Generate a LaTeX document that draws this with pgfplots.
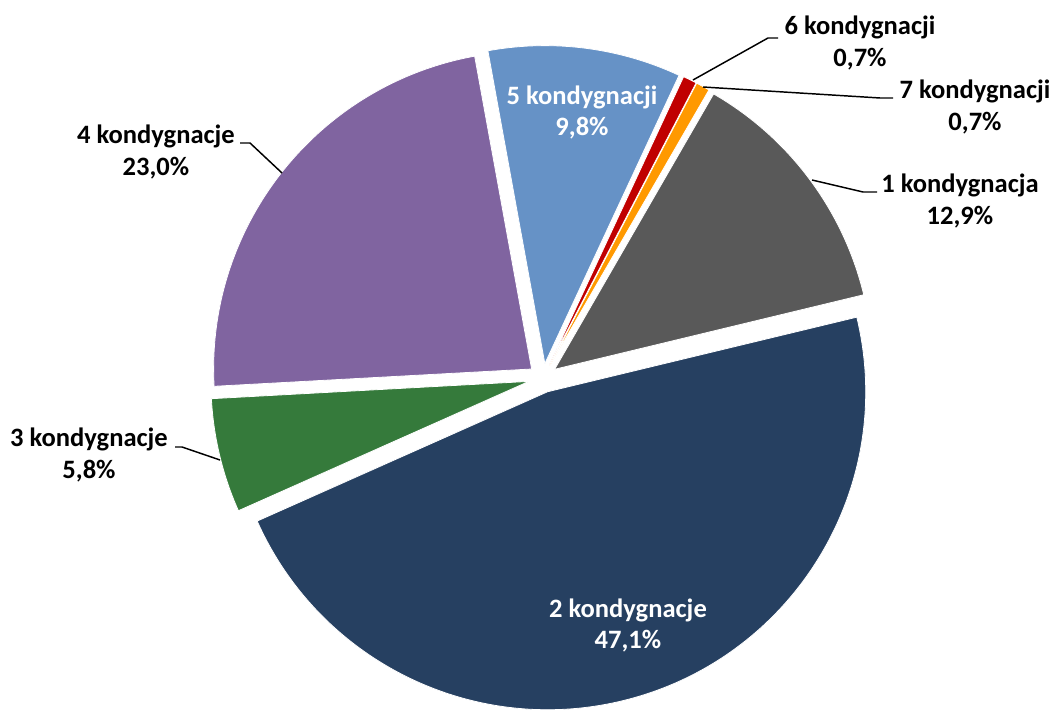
\documentclass[border=0pt]{standalone}
\usepackage{pgfplots}
\usepackage{pgfplotstable}
\pgfplotsset{compat=1.18}
\usepackage{fontspec}
\setmainfont{Carlito}
\definecolor{c1}{HTML}{595959}
\definecolor{c2}{HTML}{264061}
\definecolor{c3}{HTML}{357A3B}
\definecolor{c4}{HTML}{8064A0}
\definecolor{c5}{HTML}{6692C6}
\definecolor{c6}{HTML}{C00000}
\definecolor{c7}{HTML}{FF9900}
\pgfplotstableread{
value color
12.9 c1
47.1 c2
5.8 c3
23.0 c4
9.8 c5
0.7 c6
0.7 c7
}\piedata
\begin{document}
\begin{tikzpicture}[lbl/.style={font=\bfseries\fontsize{19.9}{23.3}\selectfont, align=center, inner sep=0pt}]
\begin{axis}[
  scale only axis, width=790.5pt, height=532.5pt,
  xmin=0, xmax=1054, ymin=0, ymax=710,
  hide axis, clip=false,
]
\path (axis cs:0,0) rectangle (axis cs:1054,710);
\pgfplotstablegetrowsof{\piedata}
\pgfmathtruncatemacro\N{\pgfplotsretval-1}
\def\cum{30}
\pgfplotsforeachungrouped \i in {0,...,\N}{%
  \pgfplotstablegetelem{\i}{value}\of\piedata \let\v\pgfplotsretval
  \pgfplotstablegetelem{\i}{color}\of\piedata \let\c\pgfplotsretval
  \pgfmathsetmacro\aS{90-\cum}%
  \pgfmathsetmacro\aE{90-\cum-3.6*\v}%
  \pgfmathsetmacro\aM{(\aS+\aE)/2}%
  \pgfmathsetmacro\ox{543+14.5*cos(\aM)}%
  \pgfmathsetmacro\oy{332+14.5*sin(\aM)}%
  \edef\temp{\noexpand\fill[\c, draw=white, line width=0.6pt] (axis cs:\ox,\oy) -- ++(\aS:238.5pt) arc[start angle=\aS, end angle=\aE, radius=238.5pt] -- cycle;}%
  \temp
  \pgfmathsetmacro\cum{\cum+3.6*\v}%
}
% leader lines
\draw[black, line width=1.1pt] (axis cs:693,630) -- (axis cs:768,672) -- (axis cs:778,672);
\draw[black, line width=1.1pt] (axis cs:703,623) -- (axis cs:880,612) -- (axis cs:893,612);
\draw[black, line width=1.1pt] (axis cs:812,530) -- (axis cs:863,518) -- (axis cs:877,518);
\draw[black, line width=1.1pt] (axis cs:282,537) -- (axis cs:250,567) -- (axis cs:240,567);
\draw[black, line width=1.1pt] (axis cs:220,250) -- (axis cs:182,263) -- (axis cs:175,263);
% labels
\node[lbl] at (axis cs:960,509) {1 kondygnacja\\12,9\%};
\node[lbl, text=white] at (axis cs:628,84.5) {2 kondygnacje\\47,1\%};
\node[lbl] at (axis cs:89,255) {3 kondygnacje\\5,8\%};
\node[lbl] at (axis cs:156,558) {4 kondygnacje\\23,0\%};
\node[lbl, text=white] at (axis cs:582,597.5) {5 kondygnacji\\9,8\%};
\node[lbl] at (axis cs:860,667) {6 kondygnacji\\0,7\%};
\node[lbl] at (axis cs:975,603) {7 kondygnacji\\0,7\%};
\end{axis}
\pgfresetboundingbox
\path[use as bounding box] (current axis.south west) rectangle (current axis.north east);
\end{tikzpicture}
\end{document}
